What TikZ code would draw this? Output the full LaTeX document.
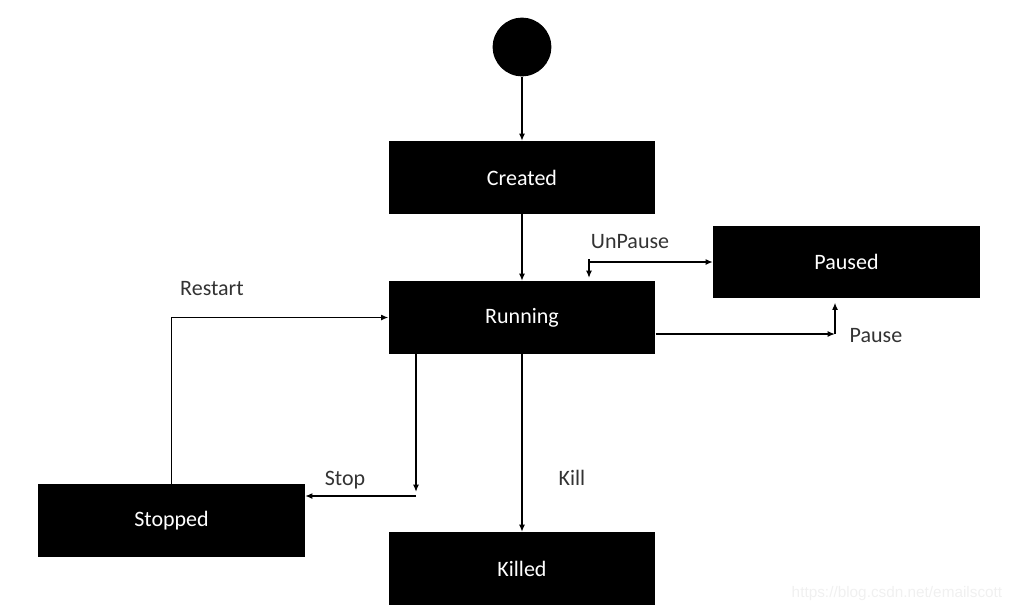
\documentclass[tikz,border=0pt]{standalone}
\usepackage{fontspec}
\setmainfont{Carlito}
\newfontfamily\markfont{Liberation Sans}
\usetikzlibrary{arrows.meta}

\begin{document}
\begin{tikzpicture}[x=0.75pt, y=-0.75pt, >={Latex[length=5.5pt,width=4.5pt]}]

  % Styles
  \tikzset{
    state/.style={fill=black, text=white, inner sep=0pt,
      minimum width=200pt, minimum height=54.5pt, font=\fontsize{16.5}{19}\selectfont},
    trans/.style={->, line width=1.4pt},
    lbl/.style={text=black!80, inner sep=0pt, font=\fontsize{16.5}{19}\selectfont}
  }

  \useasboundingbox (0,0) rectangle (1015,612);

  % States
  \node[circle, fill=black, minimum size=44pt, inner sep=0pt] (start) at (522,47) {};
  \node[state] (created) at (522,177.5) {Created};
  \node[state] (running) at (522,317.5) {Running};
  \node[state] (paused)  at (846.5,262) {Paused};
  \node[state] (stopped) at (171.5,520.5) {Stopped};
  \node[state] (killed)  at (522,568.5) {Killed};

  % Corners of the bent connectors
  \coordinate (upcorner) at (589,262);
  \coordinate (upend) at (589,278);
  \coordinate (pcorner) at (835,334);
  \coordinate (scorner) at (416,496);

  % Transitions
  \draw[trans] (start) -- (created);
  \draw[trans] (created) -- (running);
  \draw[trans] (running) -- (killed);
  \draw[trans] (upcorner) -- (upcorner -| paused.west);
  \draw[trans] ([yshift=2pt]upcorner) -- (upend);
  \draw[trans] (running.east |- pcorner) -- (pcorner);
  \draw[trans, shorten >=3pt] (pcorner) -- (pcorner |- paused.south);
  \draw[trans, shorten >=3pt] (scorner |- running.south) -- (scorner);
  \draw[trans] (scorner) -- (scorner -| stopped.east);
  \draw[trans] (stopped.north) |- (running.west);

  % Labels
  \node[lbl] (unpauselbl) at (630,242) {UnPause};
  \node[lbl] (pauselbl) at (876,336) {Pause};
  \node[lbl] (stoplbl) at (345,480) {Stop};
  \node[lbl] (restartlbl) at (212,289) {Restart};
  \node[lbl] (killlbl) at (572,478) {Kill};

  % Watermark
  \node[text=black!6, inner sep=0pt, font=\markfont\fontsize{11.5}{13}\selectfont] (mark) at (897,594) {https://blog.csdn.net/emailscott};

\end{tikzpicture}
\end{document}
